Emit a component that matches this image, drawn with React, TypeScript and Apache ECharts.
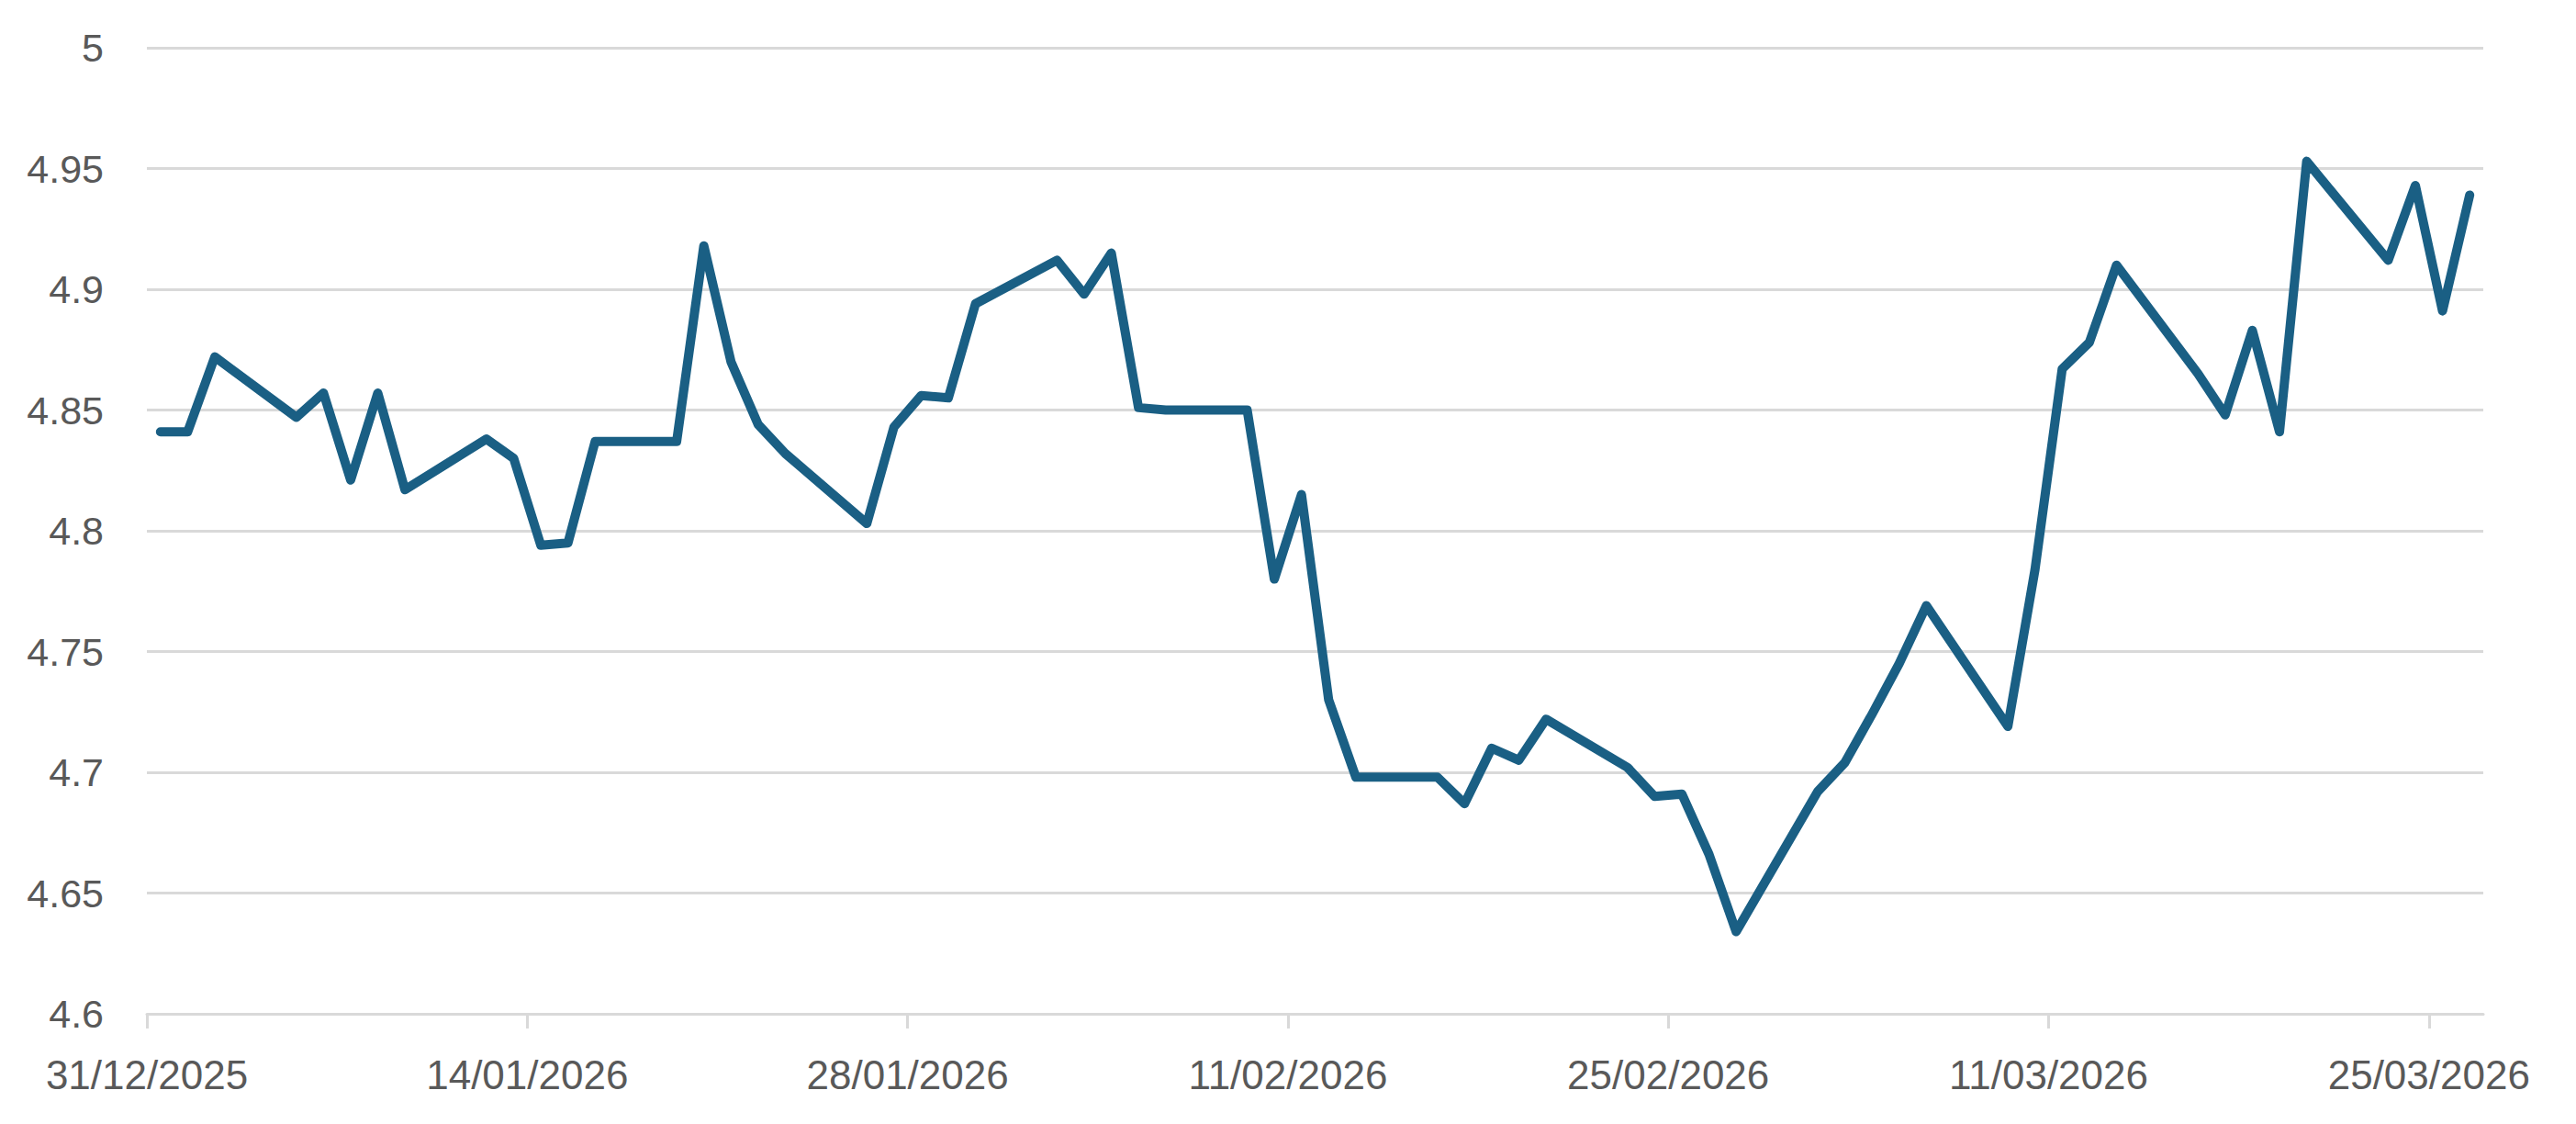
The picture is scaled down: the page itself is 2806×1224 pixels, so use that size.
import React, { useEffect, useRef } from "react";
import * as echarts from "echarts";

const startDate = "2025-12-31";
const endDate = "2026-03-27";
const tickDates = ["2025-12-31", "2026-01-14", "2026-01-28", "2026-02-11", "2026-02-25", "2026-03-11", "2026-03-25"];

const dates = [
  "2025-12-31", "2026-01-01", "2026-01-02", "2026-01-05", "2026-01-06", "2026-01-07", "2026-01-08", "2026-01-09",
  "2026-01-12", "2026-01-13", "2026-01-14", "2026-01-15", "2026-01-16",
  "2026-01-19", "2026-01-20", "2026-01-21", "2026-01-22", "2026-01-23",
  "2026-01-26", "2026-01-27", "2026-01-28", "2026-01-29", "2026-01-30",
  "2026-02-02", "2026-02-03", "2026-02-04", "2026-02-05", "2026-02-06",
  "2026-02-09", "2026-02-10", "2026-02-11", "2026-02-12", "2026-02-13",
  "2026-02-16", "2026-02-17", "2026-02-18", "2026-02-19", "2026-02-20",
  "2026-02-23", "2026-02-24", "2026-02-25", "2026-02-26", "2026-02-27",
  "2026-03-02", "2026-03-03", "2026-03-04", "2026-03-05", "2026-03-06",
  "2026-03-09", "2026-03-10", "2026-03-11", "2026-03-12", "2026-03-13",
  "2026-03-16", "2026-03-17", "2026-03-18", "2026-03-19", "2026-03-20",
  "2026-03-23", "2026-03-24", "2026-03-25", "2026-03-26",
];

const values = [
  4.841, 4.841, 4.872, 4.847, 4.857, 4.821, 4.857, 4.817,
  4.838, 4.830, 4.794, 4.795, 4.837,
  4.837, 4.918, 4.870, 4.844, 4.832,
  4.803, 4.843, 4.856, 4.855, 4.894,
  4.912, 4.898, 4.915, 4.851, 4.850,
  4.850, 4.780, 4.815, 4.730, 4.698,
  4.698, 4.687, 4.710, 4.705, 4.722,
  4.702, 4.690, 4.691, 4.666, 4.634,
  4.692, 4.704, 4.724, 4.745, 4.769,
  4.719, 4.784, 4.867, 4.878, 4.910,
  4.865, 4.848, 4.883, 4.841, 4.953,
  4.912, 4.943, 4.891, 4.939,
];

const yMin = 4.6;
const yMax = 5;
const yStep = 0.05;

const DAY = 86400000;
const toMs = (s: string) => {
  const [y, m, d] = s.split("-").map(Number);
  return Date.UTC(y, m - 1, d);
};
const dayIndex = (s: string) => Math.round((toMs(s) - toMs(startDate)) / DAY);
const fmtDay = (v: number) => {
  const dt = new Date(toMs(startDate) + Math.round(v) * DAY);
  const dd = String(dt.getUTCDate()).padStart(2, "0");
  const mm = String(dt.getUTCMonth() + 1).padStart(2, "0");
  return `${dd}/${mm}/${dt.getUTCFullYear()}`;
};

export default function App() {
  const ref = useRef<HTMLDivElement>(null);
  useEffect(() => {
    if (!ref.current) return;
    const chart = echarts.init(ref.current, null, { renderer: "svg" });
    const tickVals = tickDates.map(dayIndex);
    const seriesData = dates.map((d, i) => [dayIndex(d) + 0.5, values[i]]);
    const font = "'Liberation Sans', Arial, sans-serif";
    chart.setOption({
      animation: false,
      backgroundColor: "#ffffff",
      grid: { left: 160, right: 101, top: 52, bottom: 120, containLabel: false },
      xAxis: {
        type: "value",
        min: 0,
        max: dayIndex(endDate),
        axisLine: { show: true, lineStyle: { color: "#d9d9d9", width: 3 } },
        axisTick: { show: true, length: 16, lineStyle: { color: "#d9d9d9", width: 3 }, customValues: tickVals },
        axisLabel: {
          customValues: tickVals,
          formatter: (v: number) => fmtDay(v),
          color: "#595959",
          fontSize: 44,
          fontFamily: font,
          margin: 44,
        },
        splitLine: { show: false },
      },
      yAxis: {
        type: "value",
        min: yMin,
        max: yMax,
        interval: yStep,
        axisLine: { show: false },
        axisTick: { show: false },
        axisLabel: {
          color: "#595959",
          fontSize: 43,
          fontFamily: font,
          margin: 47,
          formatter: (v: number) => String(Math.round(v * 100) / 100),
        },
        splitLine: { show: true, lineStyle: { color: "#d9d9d9", width: 3 } },
      },
      series: [
        {
          type: "line",
          data: seriesData,
          showSymbol: false,
          symbol: "none",
          lineStyle: { color: "#1a5f84", width: 10, cap: "round", join: "round" },
        },
      ],
    });
    return () => chart.dispose();
  }, []);
  return (
    <div
      ref={ref}
      style={{ position: "fixed", left: 0, top: 0, width: 2806, height: 1224, background: "#fff" }}
    />
  );
}
